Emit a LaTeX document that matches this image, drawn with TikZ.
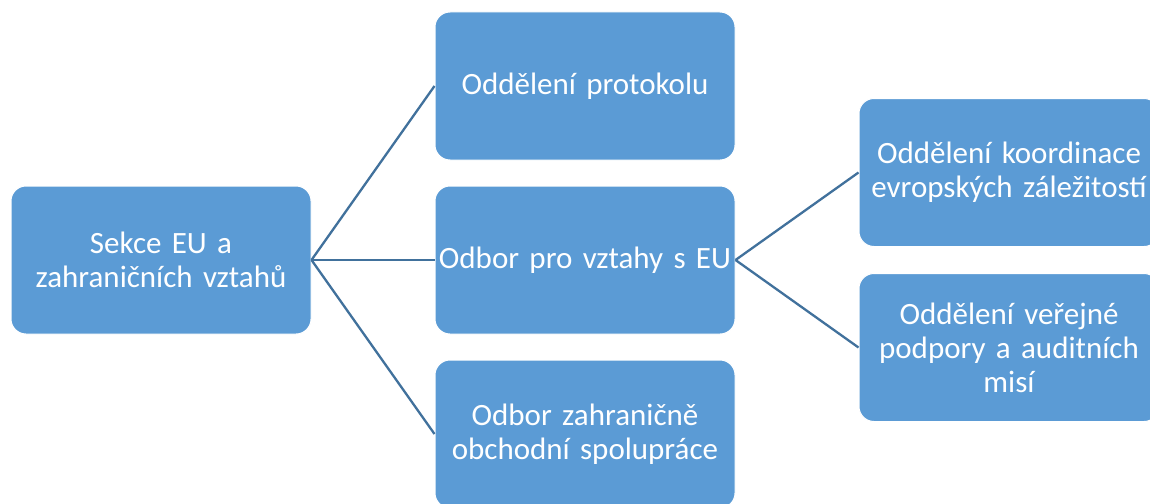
\documentclass[tikz,border=0pt]{standalone}
\usepackage{fontspec}
\setmainfont{Carlito}
\definecolor{boxblue}{HTML}{5B9BD5}
\definecolor{lineblue}{HTML}{41719C}
\newcommand{\orgboxfont}{\fontsize{31}{34}\selectfont\spaceskip=0.19em plus 0.05em\relax}
\begin{document}
\begin{tikzpicture}[x=1pt,y=-1pt,
  orgbox/.style={rectangle, rounded corners=15pt, fill=boxblue, draw=white, line width=1pt,
    minimum width=300pt, minimum height=148pt, text width=290pt, align=center,
    text=white, font=\orgboxfont, inner sep=0pt},
  link/.style={draw=lineblue, line width=2.3pt}]
\useasboundingbox (0,0) rectangle (1150,503);
\clip (0,0) rectangle (1150,503);
\fill[white] (0,0) rectangle (1150,503);
\node[orgbox] (root) at (161,260) {Sekce EU a\\zahraničních vztahů};
\node[orgbox] (prot) at (585,86) {Oddělení protokolu};
\node[orgbox] (eu) at (585,260) {\makebox[290pt][c]{Odbor pro vztahy s EU}};
\node[orgbox] (obch) at (585,434) {Odbor zahraničně\\obchodní spolupráce};
\node[orgbox] (koord) at (1009,172.5) {\makebox[290pt][c]{Oddělení koordinace}\\\makebox[290pt][c]{evropských záležitostí}};
\node[orgbox] (podp) at (1009,347.5) {Oddělení veřejné\\podpory a auditních\\misí};
\draw[link] (root.east) -- (prot.west);
\draw[link] (root.east) -- (eu.west);
\draw[link] (root.east) -- (obch.west);
\draw[link] (eu.east) -- (koord.west);
\draw[link] (eu.east) -- (podp.west);
\end{tikzpicture}
\end{document}
